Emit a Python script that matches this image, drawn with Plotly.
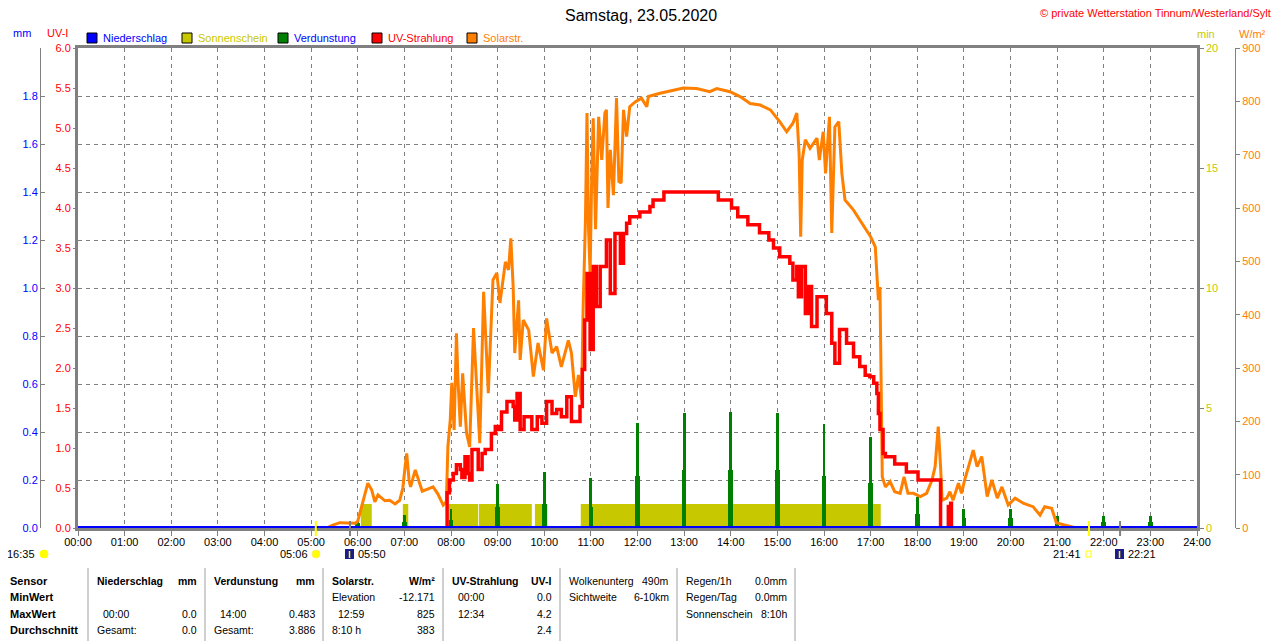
import plotly.graph_objects as go

# the page shows the figure with an 8 px body margin, so the figure is 8 px smaller on each side
OFF = 8
W, H = 1280 - OFF, 641 - OFF

# Solarstrahlung (W/m²)
solar_time = ["05:20", "05:27", "05:37", "05:50", "05:57", "06:00", "06:04", "06:08", "06:13", "06:18",
              "06:22", "06:26", "06:35", "06:41", "06:48", "06:54", "06:58", "07:01", "07:03", "07:06",
              "07:08", "07:14", "07:18", "07:23", "07:30", "07:37", "07:43", "07:50", "07:54", "07:56",
              "07:59", "08:01", "08:04", "08:07", "08:09", "08:12", "08:15", "08:20", "08:24", "08:29",
              "08:37", "08:42", "08:48", "08:54", "08:59", "09:03", "09:10", "09:14", "09:17", "09:20",
              "09:22", "09:27", "09:29", "09:33", "09:40", "09:46", "09:52", "09:59", "10:03", "10:10",
              "10:16", "10:22", "10:31", "10:35", "10:40", "10:44", "10:48", "10:50", "10:53", "10:55",
              "10:57", "10:59", "11:01", "11:03", "11:06", "11:10", "11:14", "11:18", "11:20", "11:22",
              "11:25", "11:29", "11:33", "11:36", "11:39", "11:42", "11:46", "11:50", "11:57", "12:05",
              "12:12", "12:14", "12:29", "12:46", "12:59", "13:16", "13:33", "13:42", "13:59", "14:12",
              "14:25", "14:38", "14:51", "15:03", "15:12", "15:20", "15:25", "15:28", "15:30", "15:32",
              "15:36", "15:42", "15:51", "15:54", "15:59", "16:02", "16:07", "16:10", "16:14", "16:19",
              "16:23", "16:27", "16:38", "16:49", "17:00", "17:06", "17:08", "17:10", "17:12", "17:14",
              "17:15", "17:19", "17:25", "17:31", "17:38", "17:43", "17:48", "17:55", "18:04", "18:12",
              "18:19", "18:23", "18:27", "18:30", "18:32", "18:38", "18:42", "18:46", "18:53", "18:57",
              "19:01", "19:06", "19:12", "19:17", "19:23", "19:30", "19:36", "19:43", "19:49", "19:57",
              "20:06", "20:17", "20:29", "20:38", "20:44", "20:53", "20:59", "21:08", "21:19", "21:25"]
solar_wm2 = [0, 5, 10, 10, 9, 13, 34, 58, 84, 71,
             49, 62, 51, 52, 45, 52, 75, 116, 140, 90,
             77, 109, 90, 69, 73, 77, 64, 43, 49, 152,
             202, 272, 184, 365, 277, 190, 290, 178, 152, 375,
             159, 443, 253, 465, 478, 422, 499, 484, 543, 452,
             328, 427, 315, 390, 371, 284, 347, 296, 393, 328,
             340, 302, 352, 328, 246, 287, 240, 409, 577, 778,
             560, 478, 652, 768, 560, 771, 690, 778, 784, 600,
             709, 624, 806, 650, 647, 784, 734, 790, 799, 806,
             790, 809, 815, 821, 825, 824, 818, 824, 818, 809,
             796, 793, 784, 762, 743, 759, 778, 700, 546, 690,
             728, 712, 731, 690, 743, 665, 771, 553, 752, 762,
             665, 615, 596, 571, 546, 527, 478, 427, 452, 177,
             96, 77, 87, 68, 65, 96, 65, 65, 59, 65,
             90, 115, 190, 115, 52, 56, 68, 52, 84, 65,
             90, 115, 146, 115, 134, 59, 90, 56, 77, 43,
             56, 46, 40, 24, 40, 37, 10, 6, 2, 0]

# UV-Strahlung (UV-I)
uv_time = ["07:54", "07:55", "07:58", "08:03", "08:07", "08:12", "08:14", "08:18", "08:22", "08:24",
           "08:27", "08:35", "08:40", "08:44", "08:52", "08:57", "09:01", "09:05", "09:12", "09:20",
           "09:22", "09:25", "09:29", "09:34", "09:44", "09:51", "09:57", "10:03", "10:10", "10:16",
           "10:22", "10:29", "10:35", "10:46", "10:49", "10:52", "10:55", "10:59", "11:03", "11:07",
           "11:12", "11:20", "11:25", "11:31", "11:38", "11:42", "11:46", "11:50", "12:03", "12:16",
           "12:20", "12:34", "13:44", "14:01", "14:09", "14:22", "14:37", "14:49", "14:55", "15:03",
           "15:16", "15:20", "15:25", "15:27", "15:31", "15:36", "15:40", "15:44", "15:51", "16:03",
           "16:10", "16:14", "16:20", "16:29", "16:38", "16:46", "16:53", "16:59", "17:04", "17:08",
           "17:10", "17:12", "17:16", "17:19", "17:31", "17:46", "18:01", "18:30", "18:40", "18:43",
           "18:44"]
uv_index = [0, 0.44, 0.6, 0.68, 0.79, 0.73, 0.63, 0.89, 0.68, 0.6,
            0.98, 0.73, 0.93, 0.98, 1.18, 1.27, 1.23, 1.45, 1.58, 1.52,
            1.35, 1.68, 1.23, 1.39, 1.23, 1.39, 1.31, 1.58, 1.43, 1.48,
            1.39, 1.64, 1.33, 1.52, 1.98, 2.6, 3.18, 2.23, 3.27, 2.77,
            3.27, 3.6, 2.93, 3.68, 3.31, 3.68, 3.81, 3.89, 3.95, 4.02,
            4.1, 4.2, 4.1, 4.0, 3.89, 3.79, 3.69, 3.6, 3.5, 3.39,
            3.31, 3.1, 3.27, 2.89, 3.27, 2.68, 3.02, 2.52, 2.89, 2.68,
            2.31, 2.06, 2.48, 2.31, 2.14, 2.02, 1.91, 1.89, 1.81, 1.68,
            1.43, 1.23, 0.93, 0.89, 0.8, 0.7, 0.6, 0, 0.27, 0.31,
            0]

# Sonnenschein (min pro Minute)
sun_start = ["06:04", "06:58", "07:57", "08:36", "09:48", "10:47"]
sun_end = ["06:18", "07:05", "08:35", "09:44", "10:04", "17:13"]

# Verdunstung (mm)
evap_hour = [6, 7, 8, 9, 10, 11, 12, 13, 14, 15, 16, 17, 18, 19, 20, 21, 22, 23]
evap_peak = [0.03, 0.054, 0.08, 0.183, 0.233, 0.208, 0.436, 0.48, 0.483, 0.48,
             0.432, 0.38, 0.13, 0.08, 0.08, 0.05, 0.05, 0.05]
evap_base = [0.02, 0.025, 0.035, 0.088, 0.1, 0.088, 0.217, 0.242, 0.242, 0.242,
             0.217, 0.186, 0.06, 0.04, 0.04, 0.025, 0.025, 0.025]

# Niederschlag (mm)
rain_time = ["00:00", "24:00"]
rain_mm = [0.0, 0.0]

hour_labels = ["%02d:00" % h for h in range(25)]

sunrise, moonset, sunset, moonrise = "05:06", "05:50", "21:41", "22:21"
day_length = "16:35"

table_rows = ["Sensor", "MinWert", "MaxWert", "Durchschnitt"]
table_cols = [
    [("Niederschlag", "mm"), ("", ""), ("00:00", "0.0"), ("Gesamt:", "0.0")],
    [("Verdunstung", "mm"), ("", ""), ("14:00", "0.483"), ("Gesamt:", "3.886")],
    [("Solarstr.", "W/m²"), ("Elevation", "-12.171"), ("12:59", "825"), ("8:10 h", "383")],
    [("UV-Strahlung", "UV-I"), ("00:00", "0.0"), ("12:34", "4.2"), ("", "2.4")],
    [("Wolkenunterg", "490m"), ("Sichtweite", "6-10km"), ("", ""), ("", "")],
    [("Regen/1h", "0.0mm"), ("Regen/Tag", "0.0mm"), ("Sonnenschein", "8:10h"), ("", "")],
]

C_ORANGE = "#FF8000"
C_RED = "#FF0000"
C_GREEN = "#008000"
C_SUN = "#C8C800"
C_BLUE = "#0000FF"
C_GRAY = "#808080"
FONT = "Liberation Sans, Arial, sans-serif"


def hrs(t):
    h, m = t.split(":")
    return int(h) + int(m) / 60


def px(x):
    # screen pixel -> paper fraction
    return (x - OFF) / W


def py(y):
    return 1 - (y - OFF) / H


sun_x, sun_y = [0.0], [0]
for s, e in zip(sun_start, sun_end):
    sun_x += [hrs(s), hrs(e)]
    sun_y += [1, 0]
sun_x.append(24.0)
sun_y.append(0)

fig = go.Figure()

fig.add_trace(go.Scatter(x=sun_x, y=sun_y, yaxis="y", mode="lines", line=dict(width=0, shape="hv"),
                         fill="tozeroy", fillcolor=C_SUN, hoverinfo="skip"))
fig.add_trace(go.Bar(x=evap_hour, y=evap_base, yaxis="y2", width=0.1, marker=dict(color=C_GREEN, line_width=0)))
fig.add_trace(go.Bar(x=evap_hour, y=evap_peak, yaxis="y2", width=0.06, marker=dict(color=C_GREEN, line_width=0)))
fig.add_trace(go.Scatter(x=[hrs(t) for t in solar_time], y=solar_wm2, yaxis="y3", mode="lines",
                         line=dict(color=C_ORANGE, width=3)))
fig.add_trace(go.Scatter(x=[hrs(t) for t in uv_time], y=uv_index, yaxis="y4", mode="lines",
                         line=dict(color=C_RED, width=3.5, shape="hv")))
fig.add_trace(go.Scatter(x=[hrs(t) for t in rain_time], y=rain_mm, yaxis="y5", mode="lines",
                         line=dict(color=C_BLUE, width=4)))

dom_y = [py(528), py(48)]
tick_font = dict(family=FONT, size=11)

fig.update_layout(
    width=W, height=H, autosize=False,
    margin=dict(l=0, r=0, t=0, b=0, pad=0, autoexpand=False),
    paper_bgcolor="white", plot_bgcolor="white",
    showlegend=False, barmode="overlay", bargap=0,
    xaxis=dict(domain=[px(78), px(1197)], range=[0, 24], tickvals=list(range(25)), ticktext=hour_labels,
               ticks="outside", ticklen=5, tickcolor=C_GRAY, tickfont=dict(tick_font, color="black"),
               ticklabelstandoff=-3,
               showgrid=True, gridcolor=C_GRAY, griddash="4px,4px", gridwidth=1, zeroline=False,
               showline=True, linecolor=C_GRAY, linewidth=2.5, mirror=True, automargin=False),
    yaxis=dict(domain=dom_y, range=[0, 20], side="right", tickvals=[0, 5, 10, 15, 20],
               ticks="outside", ticklen=4, tickcolor=C_GRAY, tickfont=dict(tick_font, color=C_SUN),
               showgrid=False, zeroline=False, showline=True, linecolor=C_GRAY, linewidth=2.5, mirror=True,
               automargin=False),
    yaxis2=dict(domain=dom_y, range=[0, 2], overlaying="y", side="left", anchor="free", position=px(40),
                tickvals=[i / 5 for i in range(10)], ticktext=["%.1f" % (i / 5) for i in range(10)],
                ticks="inside", ticklen=4, tickcolor=C_GRAY, tickfont=dict(tick_font, color=C_BLUE),
                showgrid=True, gridcolor=C_GRAY, griddash="4px,4px", gridwidth=1, zeroline=False,
                showline=True, linecolor=C_GRAY, linewidth=1, automargin=False),
    yaxis3=dict(domain=dom_y, range=[0, 900], overlaying="y", side="right", anchor="free", position=px(1235),
                tickvals=list(range(0, 901, 100)), ticks="outside", ticklen=4, tickcolor=C_GRAY,
                tickfont=dict(tick_font, color=C_ORANGE), showgrid=False, zeroline=False,
                showline=True, linecolor=C_GRAY, linewidth=1, automargin=False),
    yaxis4=dict(domain=dom_y, range=[0, 6], overlaying="y", side="left", anchor="x",
                tickvals=[i / 2 for i in range(13)], ticktext=["%.1f" % (i / 2) for i in range(13)],
                ticks="outside", ticklen=4, tickcolor=C_GRAY, tickfont=dict(tick_font, color=C_RED),
                showgrid=False, zeroline=False, showline=False, automargin=False),
    yaxis5=dict(domain=dom_y, overlaying="y", matches="y2", visible=False),
)

annotations = []
shapes = []


def text(x, y, s, color="black", size=11, anchor="left", bold=False):
    if bold:
        s = "<b>%s</b>" % s
    annotations.append(dict(x=px(x), y=py(y), xref="paper", yref="paper", text=s, showarrow=False,
                            xanchor=anchor, yanchor="middle", font=dict(family=FONT, size=size, color=color)))


text(641, 15, "Samstag, 23.05.2020", size=16, anchor="center")
text(1273, 13, "© private Wetterstation Tinnum/Westerland/Sylt", color=C_RED, size=11, anchor="right")

text(22, 33, "mm", color=C_BLUE, anchor="center")
text(57, 33, "UV-I", color=C_RED, anchor="center")
text(1206, 34, "min", color=C_SUN, anchor="center")
text(1252, 34, "W/m²", color=C_ORANGE, anchor="center")

legend_items = [("Niederschlag", C_BLUE, C_BLUE, 87), ("Sonnenschein", C_SUN, C_SUN, 182),
                ("Verdunstung", C_GREEN, C_BLUE, 278), ("UV-Strahlung", C_RED, C_RED, 372),
                ("Solarstr.", C_ORANGE, C_ORANGE, 467)]
for name, box, tcol, lx in legend_items:
    shapes.append(dict(type="rect", xref="paper", yref="paper", x0=px(lx), x1=px(lx + 10),
                       y0=py(43), y1=py(33), fillcolor=box, line=dict(color="black", width=1)))
    text(lx + 14, 38, name, color=tcol)

# sunrise / sunset markers on the time axis
for t, col in [(sunrise, "#FFFF00"), (moonset, C_GRAY), (sunset, "#FFFF00"), (moonrise, C_GRAY)]:
    shapes.append(dict(type="line", xref="x", yref="paper", x0=hrs(t), x1=hrs(t), y0=py(536), y1=py(521),
                       line=dict(color=col, width=2), layer="above"))

text(37, 554, day_length, anchor="right")
shapes.append(dict(type="circle", xref="paper", yref="paper", x0=px(40), x1=px(48), y0=py(558), y1=py(550),
                   fillcolor="#FFFF00", line=dict(color="#FFFF00", width=1)))
text(310, 554, sunrise, anchor="right")
shapes.append(dict(type="circle", xref="paper", yref="paper", x0=px(312), x1=px(320), y0=py(558), y1=py(550),
                   fillcolor="#FFFF00", line=dict(color="#FFEE66", width=1)))
shapes.append(dict(type="rect", xref="paper", yref="paper", x0=px(345), x1=px(354), y0=py(559), y1=py(549),
                   fillcolor="#1C1C8C", line=dict(width=0)))
shapes.append(dict(type="line", xref="paper", yref="paper", x0=px(349.5), x1=px(349.5), y0=py(558), y1=py(551),
                   line=dict(color="#FFFF00", width=1.5)))
text(356, 554, moonset)
text(1083, 554, sunset, anchor="right")
shapes.append(dict(type="rect", xref="paper", yref="paper", x0=px(1086), x1=px(1091), y0=py(557), y1=py(551),
                   fillcolor="white", line=dict(color="#FFFF00", width=1)))
shapes.append(dict(type="rect", xref="paper", yref="paper", x0=px(1115), x1=px(1124), y0=py(559), y1=py(549),
                   fillcolor="#1C1C8C", line=dict(width=0)))
shapes.append(dict(type="line", xref="paper", yref="paper", x0=px(1119.5), x1=px(1119.5), y0=py(558), y1=py(551),
                   line=dict(color="#FFFF00", width=1.5)))
text(1126, 554, moonrise)

# table below the chart
row_y = [581, 597, 614, 630]
sep_x = [88, 205, 323, 443, 560, 677, 795]
for sx in sep_x:
    shapes.append(dict(type="line", xref="paper", yref="paper", x0=px(sx), x1=px(sx), y0=py(641), y1=py(568),
                       line=dict(color="#A0A0A0", width=1)))
for label, ry in zip(table_rows, row_y):
    text(8, ry, label, bold=True)
for ci, col in enumerate(table_cols):
    left, right = sep_x[ci] + 7, sep_x[ci + 1] - 6
    for ri, (a, b) in enumerate(col):
        bold = ri == 0 and ci < 4
        indent = 6 if (len(a) == 5 and a[2] == ":") else 0
        if a:
            text(left + indent, row_y[ri], a, bold=bold, size=10.5)
        if b:
            text(right, row_y[ri], b, anchor="right", bold=bold, size=10.5)

fig.update_layout(annotations=annotations, shapes=shapes)
fig.write_html("out.html")
